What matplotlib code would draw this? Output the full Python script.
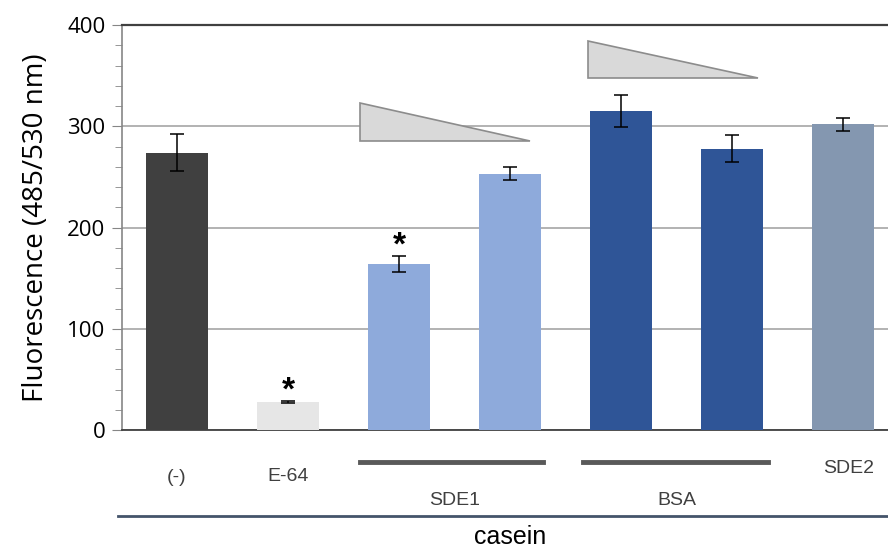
import matplotlib
matplotlib.use("Agg")
import matplotlib.pyplot as plt
from matplotlib.patches import Polygon
from matplotlib.ticker import MultipleLocator

# values
samples = ["(-)", "E-64", "SDE1 high", "SDE1 low", "BSA high", "BSA low", "SDE2"]
means = [274, 28, 164, 253, 315, 278, 302]
errors = [18, 1, 8, 6.5, 16, 13, 6.5]
colors = ["#404040", "#e6e6e6", "#8eaadb", "#8eaadb", "#2f5597", "#2f5597", "#8497b0"]
star_bars = [1, 2]

plt.rcParams['font.family'] = ['Liberation Sans', 'DejaVu Sans']

fig = plt.figure(figsize=(8.88, 5.5), dpi=100)
ax = fig.add_axes([122/888, 1-430/550, 766/888, 405/550])

x = list(range(len(means)))
ax.bar(x, means, width=0.56, color=colors, zorder=3)
ax.errorbar(x, means, yerr=errors, fmt="none", ecolor="black", elinewidth=1.1,
            capsize=5, capthick=1.1, zorder=4)

for i in star_bars:
    ax.text(i, means[i] + errors[i] + 1, "*", ha="center", va="baseline",
            fontsize=24, fontweight="bold", zorder=5)

# gradient triangles above SDE1 and BSA
tri_sde1 = Polygon([(1.649, 323), (1.649, 285), (3.177, 285)], closed=True,
                   facecolor="#d9d9d9", edgecolor="#8c8c8c", lw=1.2, zorder=5)
tri_bsa = Polygon([(3.70, 384), (3.70, 348), (5.23, 348)], closed=True,
                  facecolor="#d9d9d9", edgecolor="#8c8c8c", lw=1.2, zorder=5)
ax.add_patch(tri_sde1)
ax.add_patch(tri_bsa)

ax.set_ylim(0, 400)
ax.set_xlim(-0.495, 6.405)
ax.yaxis.set_major_locator(MultipleLocator(100))
ax.yaxis.set_minor_locator(MultipleLocator(20))
ax.grid(axis="y", color="#a6a6a6", lw=1.2, zorder=0)
ax.set_xticks([])
ax.tick_params(axis="y", which="major", length=7, color="#868686", pad=5)
ax.tick_params(axis="y", which="minor", length=5, color="#868686")
for lab in ax.get_yticklabels():
    lab.set_fontfamily(["Open Sans", "DejaVu Sans"])
    lab.set_fontsize(16)
ax.spines["right"].set_visible(False)
ax.spines["left"].set_color("#868686")
ax.spines["left"].set_linewidth(1.2)
ax.spines["bottom"].set_color("#404040")
ax.spines["bottom"].set_linewidth(1.3)
ax.spines["top"].set_color("#404040")
ax.spines["top"].set_linewidth(1.6)
ax.set_ylabel("Fluorescence (485/530 nm)", fontsize=20, labelpad=12,
              family=["Open Sans", "DejaVu Sans"])

# labels under the axis
tr = ax.get_xaxis_transform()
lab_col = "#404040"
ax.text(0, -0.118, "(-)", transform=tr, ha="center", va="center", fontsize=14, color=lab_col)
ax.text(1, -0.115, "E-64", transform=tr, ha="center", va="center", fontsize=14, color=lab_col)
ax.text(2.5, -0.173, "SDE1", transform=tr, ha="center", va="center", fontsize=14, color=lab_col)
ax.text(4.5, -0.173, "BSA", transform=tr, ha="center", va="center", fontsize=14, color=lab_col)
ax.text(6.05, -0.094, "SDE2", transform=tr, ha="center", va="center", fontsize=14, color=lab_col)
ax.plot([1.649, 3.297], [-0.079, -0.079], transform=tr, color="#595959", lw=3.5, clip_on=False)
ax.plot([3.658, 5.324], [-0.079, -0.079], transform=tr, color="#595959", lw=3.5, clip_on=False)
ax.plot([-0.532, 6.5], [-0.212, -0.212], transform=tr, color="#44546a", lw=2, clip_on=False)
ax.text(3.0, -0.265, "casein", transform=tr, ha="center", va="center", fontsize=18)

fig.savefig("out.png", dpi=100)
